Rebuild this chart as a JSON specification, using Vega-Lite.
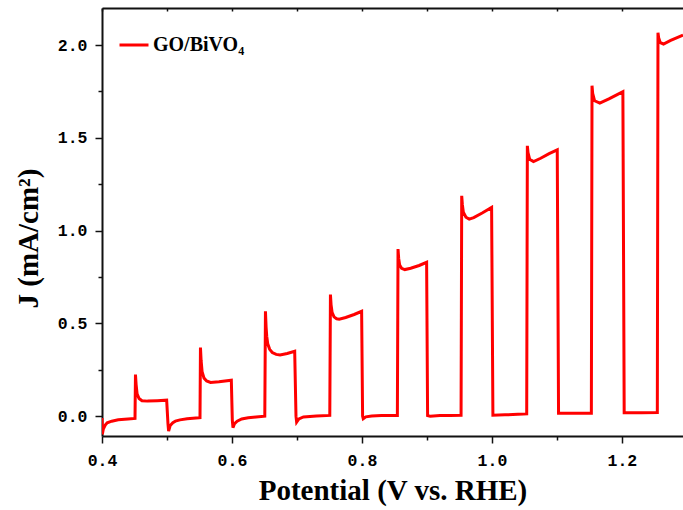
{
  "$schema": "https://vega.github.io/schema/vega-lite/v6.json",
  "width": 581,
  "height": 428,
  "autosize": {"type": "none"},
  "padding": {"left": 102, "top": 8, "right": 0, "bottom": 74},
  "background": "white",
  "config": {
    "view": {"stroke": null},
    "axis": {
      "grid": false,
      "domainColor": "#111",
      "tickColor": "#111",
      "domainWidth": 2,
      "tickWidth": 1.5,
      "labelFont": "Liberation Mono",
      "labelFontWeight": "bold",
      "labelFontSize": 16.5,
      "labelColor": "#000",
      "titleFont": "Liberation Serif",
      "titleFontWeight": "bold",
      "titleFontSize": 29,
      "titleColor": "#000"
    }
  },
  "data": {
    "values": [
      {"v": 0.4, "j": -0.01}, {"v": 0.4005, "j": -0.098}, {"v": 0.402, "j": -0.07}, {"v": 0.405, "j": -0.048}, {"v": 0.408, "j": -0.036}, {"v": 0.415, "j": -0.027}, {"v": 0.425, "j": -0.02}, {"v": 0.44, "j": -0.015}, {"v": 0.4508, "j": -0.012},
      {"v": 0.4515, "j": 0.224}, {"v": 0.4525, "j": 0.17}, {"v": 0.454, "j": 0.12}, {"v": 0.457, "j": 0.095}, {"v": 0.4615, "j": 0.083}, {"v": 0.47, "j": 0.081}, {"v": 0.485, "j": 0.083}, {"v": 0.4995, "j": 0.086},
      {"v": 0.5015, "j": -0.04}, {"v": 0.5025, "j": -0.081}, {"v": 0.505, "j": -0.05}, {"v": 0.509, "j": -0.035}, {"v": 0.513, "j": -0.027}, {"v": 0.52, "j": -0.02}, {"v": 0.531, "j": -0.014}, {"v": 0.549, "j": -0.009}, {"v": 0.5508, "j": -0.008},
      {"v": 0.5515, "j": 0.37}, {"v": 0.5525, "j": 0.3}, {"v": 0.554, "j": 0.24}, {"v": 0.557, "j": 0.205}, {"v": 0.561, "j": 0.19}, {"v": 0.567, "j": 0.182}, {"v": 0.58, "j": 0.185}, {"v": 0.599, "j": 0.194},
      {"v": 0.6005, "j": -0.02}, {"v": 0.6015, "j": -0.062}, {"v": 0.604, "j": -0.04}, {"v": 0.608, "j": -0.027}, {"v": 0.615, "j": -0.015}, {"v": 0.625, "j": -0.009}, {"v": 0.637, "j": -0.005}, {"v": 0.6505, "j": 0.0},
      {"v": 0.6515, "j": 0.565}, {"v": 0.6525, "j": 0.48}, {"v": 0.6535, "j": 0.43}, {"v": 0.655, "j": 0.39}, {"v": 0.658, "j": 0.36}, {"v": 0.662, "j": 0.343}, {"v": 0.668, "j": 0.333}, {"v": 0.674, "j": 0.33}, {"v": 0.685, "j": 0.338}, {"v": 0.6965, "j": 0.35},
      {"v": 0.6985, "j": 0.0}, {"v": 0.6995, "j": -0.032}, {"v": 0.703, "j": -0.015}, {"v": 0.71, "j": -0.004}, {"v": 0.73, "j": 0.001}, {"v": 0.7505, "j": 0.004},
      {"v": 0.7515, "j": 0.655}, {"v": 0.7525, "j": 0.6}, {"v": 0.754, "j": 0.56}, {"v": 0.757, "j": 0.535}, {"v": 0.761, "j": 0.525}, {"v": 0.765, "j": 0.523}, {"v": 0.775, "j": 0.532}, {"v": 0.788, "j": 0.548}, {"v": 0.7995, "j": 0.565},
      {"v": 0.801, "j": 0.0}, {"v": 0.802, "j": -0.014}, {"v": 0.806, "j": -0.004}, {"v": 0.815, "j": 0.001}, {"v": 0.83, "j": 0.003}, {"v": 0.8545, "j": 0.004},
      {"v": 0.8555, "j": 0.901}, {"v": 0.8565, "j": 0.85}, {"v": 0.858, "j": 0.815}, {"v": 0.861, "j": 0.797}, {"v": 0.866, "j": 0.79}, {"v": 0.875, "j": 0.797}, {"v": 0.888, "j": 0.812}, {"v": 0.8995, "j": 0.829},
      {"v": 0.901, "j": 0.003}, {"v": 0.905, "j": 0.0}, {"v": 0.92, "j": 0.003}, {"v": 0.935, "j": 0.004}, {"v": 0.9525, "j": 0.005},
      {"v": 0.9535, "j": 1.188}, {"v": 0.9545, "j": 1.14}, {"v": 0.956, "j": 1.1}, {"v": 0.96, "j": 1.072}, {"v": 0.965, "j": 1.062}, {"v": 0.972, "j": 1.07}, {"v": 0.985, "j": 1.095}, {"v": 0.9995, "j": 1.125},
      {"v": 1.0015, "j": 0.005}, {"v": 1.02, "j": 0.007}, {"v": 1.04, "j": 0.01}, {"v": 1.0535, "j": 0.012},
      {"v": 1.0545, "j": 1.457}, {"v": 1.0555, "j": 1.42}, {"v": 1.058, "j": 1.385}, {"v": 1.064, "j": 1.372}, {"v": 1.075, "j": 1.39}, {"v": 1.088, "j": 1.415}, {"v": 1.1005, "j": 1.435},
      {"v": 1.1025, "j": 0.015}, {"v": 1.125, "j": 0.015}, {"v": 1.153, "j": 0.016},
      {"v": 1.154, "j": 1.781}, {"v": 1.155, "j": 1.74}, {"v": 1.158, "j": 1.7}, {"v": 1.166, "j": 1.687}, {"v": 1.18, "j": 1.71}, {"v": 1.192, "j": 1.732}, {"v": 1.2015, "j": 1.749},
      {"v": 1.2035, "j": 0.018}, {"v": 1.23, "j": 0.018}, {"v": 1.2545, "j": 0.019},
      {"v": 1.2555, "j": 2.067}, {"v": 1.2565, "j": 2.04}, {"v": 1.259, "j": 2.013}, {"v": 1.264, "j": 2.006}, {"v": 1.275, "j": 2.025}, {"v": 1.285, "j": 2.04}, {"v": 1.294, "j": 2.054}
    ]
  },
  "resolve": {"axis": {"x": "independent"}},
  "layer": [
    {
      "mark": {"type": "line", "strokeWidth": 3, "clip": true},
      "encoding": {
        "x": {
          "field": "v", "type": "quantitative",
          "scale": {"domain": [0.4, 1.294], "nice": false, "zero": false},
          "axis": {
            "title": "Potential (V vs. RHE)",
            "values": [0.4, 0.5, 0.6, 0.7, 0.8, 0.9, 1.0, 1.1, 1.2],
            "labelExpr": "round(datum.value*10) % 2 === 0 ? format(datum.value, '.1f') : ''",
            "tickSize": {"condition": {"test": "round(datum.value*10) % 2 === 0", "value": 7}, "value": 4},
            "labelPadding": 9,
            "titlePadding": 8,
            "labelFlush": false
          }
        },
        "y": {
          "field": "j", "type": "quantitative",
          "scale": {"domain": [-0.107, 2.2], "nice": false, "zero": false},
          "axis": {
            "title": "J (mA/cm²)",
            "values": [0, 0.25, 0.5, 0.75, 1.0, 1.25, 1.5, 1.75, 2.0],
            "labelExpr": "round(datum.value*4) % 2 === 0 ? format(datum.value, '.1f') : ''",
            "tickSize": {"condition": {"test": "round(datum.value*4) % 2 === 0", "value": 7}, "value": 4},
            "labelPadding": 8,
            "titlePadding": 14,
            "titleY": 230,
            "labelFlush": false
          }
        },
        "color": {
          "datum": "GO/BiVO₄", "type": "nominal",
          "scale": {"range": ["#ff0000"]},
          "legend": {
            "title": null,
            "orient": "none",
            "legendX": 16,
            "legendY": 21,
            "padding": 0,
            "symbolType": "stroke",
            "symbolSize": 841,
            "symbolStrokeWidth": 3,
            "labelFont": "Liberation Serif",
            "labelFontWeight": "bold",
            "labelFontSize": 20,
            "labelColor": "#000",
            "labelOffset": 3
          }
        }
      }
    },
    {
      "mark": {"type": "line", "opacity": 0},
      "encoding": {
        "x": {
          "field": "v", "type": "quantitative",
          "axis": {
            "orient": "top",
            "title": null,
            "labels": false,
            "values": [0.4, 0.5, 0.6, 0.7, 0.8, 0.9, 1.0, 1.1, 1.2],
            "tickSize": -3
          }
        },
        "y": {"field": "j", "type": "quantitative"}
      }
    }
  ]
}
